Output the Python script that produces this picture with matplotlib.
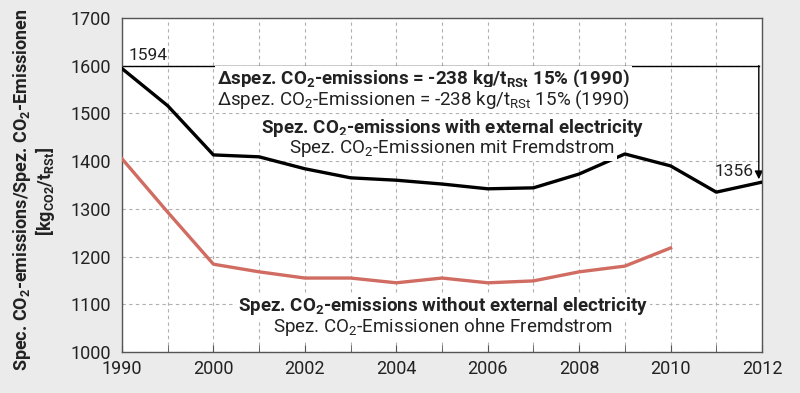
import matplotlib
matplotlib.use('Agg')
import matplotlib.pyplot as plt

# 数据：横轴为不等距年份，按序号等距排列
years = [1990, 1995, 2000, 2001, 2002, 2003, 2004, 2005, 2006, 2007, 2008, 2009, 2010, 2011, 2012]
with_fremdstrom = [1594, 1516, 1413, 1409, 1384, 1365, 1360, 1352, 1342, 1344, 1373, 1415, 1390, 1335, 1356]
ohne_years = [1990, 1995, 2000, 2001, 2002, 2003, 2004, 2005, 2006, 2007, 2008, 2009, 2010]
ohne_fremdstrom = [1405, 1293, 1184, 1168, 1155, 1155, 1145, 1155, 1145, 1149, 1168, 1180, 1218]
tick_years = [1990, 2000, 2002, 2004, 2006, 2008, 2010, 2012]

FONT = 'Roboto'
plt.rcParams['font.family'] = [FONT, 'DejaVu Sans']
plt.rcParams['mathtext.fontset'] = 'custom'
plt.rcParams['mathtext.rm'] = FONT
plt.rcParams['mathtext.it'] = FONT
plt.rcParams['mathtext.bf'] = FONT + ':bold'
plt.rcParams['mathtext.default'] = 'rm'

BG = '#ebebeb'
RED = '#d06c62'
TXT = '#222222'
FS = 13.5

fig = plt.figure(figsize=(8, 3.93), dpi=100, facecolor=BG)
ax = fig.add_axes([0.1525, 0.1043, 0.80, 0.85])
ax.set_facecolor('white')

xi = list(range(len(years)))
ax.plot(xi, with_fremdstrom, color='black', lw=2.4, zorder=3)
ax.plot([years.index(y) for y in ohne_years], ohne_fremdstrom, color=RED, lw=2.4, zorder=3)

ax.set_xlim(0, len(years) - 1)
ax.set_ylim(1000, 1700)
ax.set_yticks(range(1000, 1701, 100))
ax.set_xticks([years.index(y) for y in tick_years])
ax.set_xticklabels([str(y) for y in tick_years])
ax.set_xticks(xi, minor=True)
ax.grid(True, which='both', axis='x', ls=(0, (3, 3)), color='#b0b0b0', lw=0.8)
ax.grid(True, which='major', axis='y', ls=(0, (3, 3)), color='#b0b0b0', lw=0.8)
ax.tick_params(axis='both', which='both', labelsize=13, colors='#555555', labelcolor=TXT,
               direction='in', length=5, pad=6)
ax.tick_params(axis='y', length=0, pad=8)
for s in ax.spines.values():
    s.set_color('#555555')
    s.set_linewidth(1.0)

# 1990 -> 2012 差值箭头
x_arrow = len(years) - 1 - 0.07
ax.plot([0, x_arrow], [1600, 1600], color='black', lw=1.0, zorder=2)
ax.annotate('', xy=(x_arrow, with_fremdstrom[-1] + 6), xytext=(x_arrow, 1600),
            arrowprops=dict(arrowstyle='-|>', color='black', lw=1.0, mutation_scale=12,
                            shrinkA=0, shrinkB=0), zorder=2)
ax.text(0.15, 1606, str(with_fremdstrom[0]), fontsize=12.5, color=TXT, ha='left', va='bottom')
ax.text(x_arrow - 0.12, with_fremdstrom[-1] + 6, str(with_fremdstrom[-1]), fontsize=12.5,
        color=TXT, ha='right', va='bottom')

box = dict(facecolor='white', edgecolor='none', pad=1.5)
ax.text(6.59, 1572, r'Δspez. CO$\mathbf{_2}$-emissions = -238 kg/t$\mathbf{_{RSt}}$ 15% (1990)',
        fontsize=FS, fontweight='bold', color=TXT, ha='center', va='center', bbox=box, zorder=4)
ax.text(6.59, 1528, r'Δspez. CO$_2$-Emissionen = -238 kg/t$_{RSt}$ 15% (1990)',
        fontsize=FS, color=TXT, ha='center', va='center', bbox=box, zorder=4)
ax.text(7.22, 1470, r'Spez. CO$\mathbf{_2}$-emissions with external electricity',
        fontsize=FS, fontweight='bold', color=TXT, ha='center', va='center', bbox=box, zorder=4)
ax.text(7.22, 1428, r'Spez. CO$_2$-Emissionen mit Fremdstrom',
        fontsize=FS, color=TXT, ha='center', va='center', bbox=box, zorder=4)
ax.text(7.02, 1096, r'Spez. CO$\mathbf{_2}$-emissions without external electricity',
        fontsize=FS, fontweight='bold', color=TXT, ha='center', va='center', bbox=box, zorder=4)
ax.text(7.02, 1052, r'Spez. CO$_2$-Emissionen ohne Fremdstrom',
        fontsize=FS, color=TXT, ha='center', va='center', bbox=box, zorder=4)

fig.text(0.027, 0.517, r'Spec. CO$\mathbf{_2}$-emissions/Spez. CO$\mathbf{_2}$-Emissionen',
         rotation=90, fontsize=13, fontweight='bold', color=TXT, ha='center', va='center')
fig.text(0.056, 0.512, r'[kg$\mathbf{_{CO2}}$/t$\mathbf{_{RSt}}$]',
         rotation=90, fontsize=13, fontweight='bold', color=TXT, ha='center', va='center')

fig.savefig('out.png', dpi=100, facecolor=BG)
